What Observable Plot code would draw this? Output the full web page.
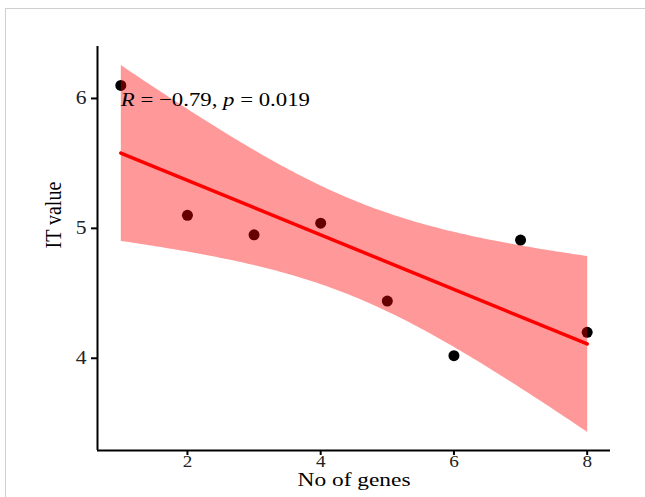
<!DOCTYPE html>
<html>
<head>
<meta charset="utf-8">
<script src="https://cdn.jsdelivr.net/npm/d3@7"></script>
<script src="https://cdn.jsdelivr.net/npm/@observablehq/plot@0.6"></script>
<style>
  html, body { margin: 0; padding: 0; background: #fff; }
  #wrap { position: relative; width: 645px; height: 497px; overflow: hidden; }
  #frame { position: absolute; left: 5px; top: 8px; width: 700px; height: 600px;
           border-top: 1px solid #cfcfcf; border-left: 1px solid #cfcfcf; pointer-events: none; }
</style>
</head>
<body>
<div id="wrap"><div id="frame"></div></div>
<script>
const genes = [1, 2, 3, 4, 5, 6, 7, 8];
const itValue = [6.10, 5.10, 4.95, 5.04, 4.44, 4.02, 4.91, 4.20];
const xTicks = [2, 4, 6, 8];
const yTicks = [4, 5, 6];
const xDomain = [0.65, 8.35];
const yDomain = [3.29, 6.40];
const corLabel = "R = \u22120.79, p = 0.019";
const xTitle = "No of genes";
const yTitle = "IT value";

const rows = genes.map((g, i) => ({genes: g, it: itValue[i]}));
const serif = "'Liberation Serif', 'DejaVu Serif', serif";

const chart = Plot.plot({
  width: 645,
  height: 497,
  marginLeft: 97,
  marginRight: 35,
  marginTop: 46,
  marginBottom: 47,
  style: {fontFamily: serif, fontSize: "18px", color: "#000", background: "transparent"},
  x: {domain: xDomain},
  y: {domain: yDomain},
  marks: [
    Plot.dot(rows, {x: "genes", y: "it", r: 5.5, fill: "#000", stroke: "none"}),
    Plot.linearRegressionY(rows, {x: "genes", y: "it", stroke: "#ff0000", fill: "#ff0000", fillOpacity: 0.4, strokeWidth: 3.5, ci: 0.95}),
    Plot.text([corLabel], {x: [genes[0]], y: [yTicks[2]], text: d => d, textAnchor: "start", fontSize: 19, fill: "#000", dy: 1}),
    Plot.ruleX([xDomain[0]], {stroke: "#000", strokeWidth: 2}),
    Plot.ruleY([yDomain[0]], {stroke: "#000", strokeWidth: 2}),
    Plot.axisX({ticks: xTicks, tickSize: 5, tickPadding: 0, stroke: "#000", strokeWidth: 2, fill: "#222", fontSize: 16,
                label: null}),
    Plot.axisY({ticks: yTicks, tickFormat: "d", tickSize: 6, tickPadding: 5, stroke: "#000", strokeWidth: 2, fill: "#222", fontSize: 18,
                label: null}),
    Plot.text([xTitle], {frameAnchor: "bottom", dy: 35, text: d => d, fontSize: 18, fill: "#000"}),
    Plot.text([yTitle], {frameAnchor: "left", dx: -44, rotate: -90, text: d => d, fontSize: 20, fill: "#000"})
  ]
});

document.getElementById("wrap").insertBefore(chart, document.getElementById("frame"));

// italicise R and p in the correlation label
d3.select(chart).selectAll("text").each(function() {
  if (this.textContent === corLabel) {
    const t = d3.select(this);
    t.text(null);
    t.append("tspan").attr("font-style", "italic").text("R");
    t.append("tspan").text(" = \u22120.79, ");
    t.append("tspan").attr("font-style", "italic").text("p");
    t.append("tspan").text(" = 0.019");
  }
});

// the reference is horizontally stretched: widen the glyphs around their anchors
d3.select(chart).selectAll("text").each(function() {
  const tr = this.getAttribute("transform");
  if (!tr) return;
  if (/rotate\(-90\)/.test(tr)) this.setAttribute("transform", tr + " scale(1,1.2)");
  else if (this.textContent === xTitle) this.setAttribute("transform", tr + " scale(1.3,1)");
  else if (!/rotate/.test(tr)) this.setAttribute("transform", tr + " scale(1.2,1)");
});
</script>
</body>
</html>
